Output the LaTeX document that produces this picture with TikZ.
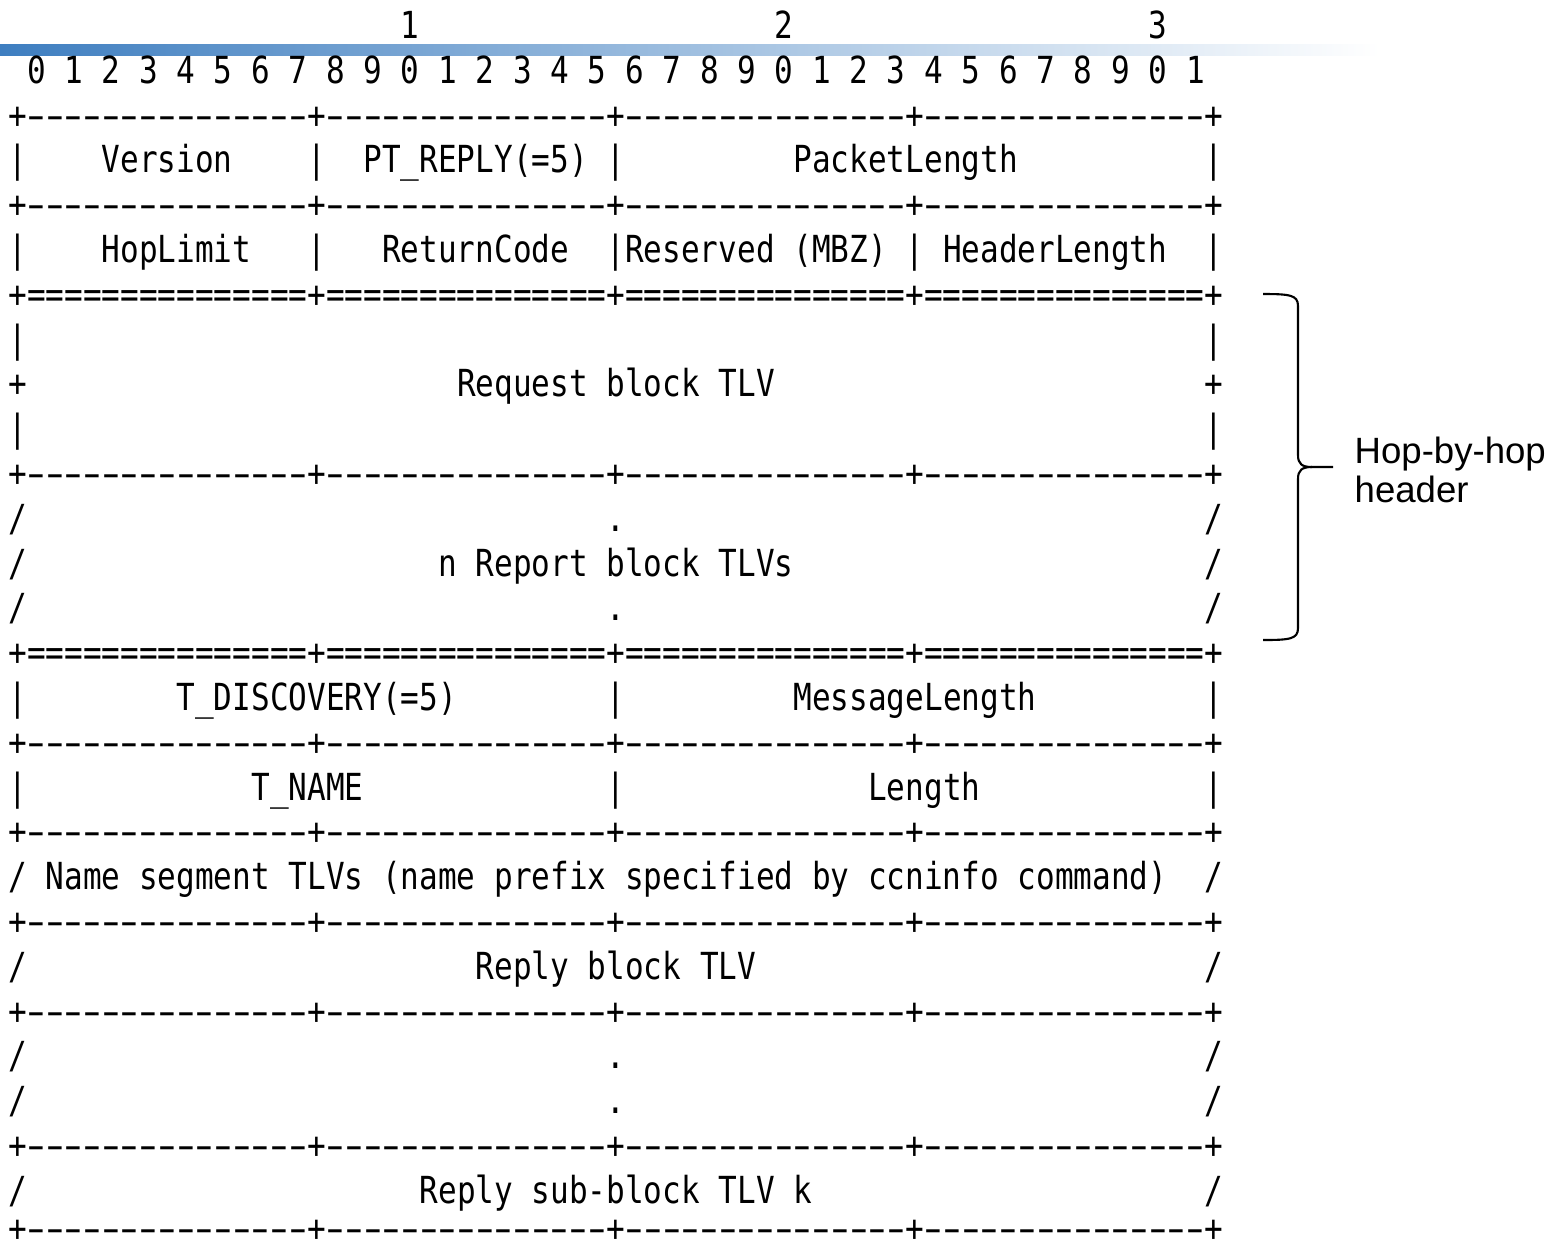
\documentclass[tikz,border=0pt]{standalone}
\usepackage{fontspec}
\usepackage{xcolor}
\usepackage{tikz}
\newfontfamily\gothic[FakeStretch=0.833,Ligatures=TeXOff]{DejaVu Sans Mono}
\newfontfamily\labelfont{Liberation Sans}
\definecolor{barblue}{RGB}{62,126,192}
\newcommand\skipcols[1]{\hskip#1\fontcharwd\font`0\relax}
\newcommand\dashcell{\makebox[\fontcharwd\font`0][c]{\scalebox{1.7}[1]{-}}}
\newcommand\dashseg{\foreach\k in {1,...,15}{\dashcell}}
\newcommand\dashrule{+\dashseg+\dashseg+\dashseg+\dashseg+}
\newcommand\eqrule{+===============+===============+===============+===============+}
\tikzset{
  asciirow/.style={anchor=base west, inner sep=0pt, font=\fontsize{10.6}{12}\gothic},
  hoplabel/.style={anchor=west, inner sep=0pt, align=left, font=\fontsize{10.4}{11.1}\labelfont},
  bracestroke/.style={line width=0.6pt},
}

\begin{document}
\begin{tikzpicture}[x=0.01cm, y=-0.01cm]
\useasboundingbox (0,0) rectangle (1560,1241);
\shade[left color=barblue, right color=white] (0,44) rectangle (1380,55);
% bit numbers
\node[asciirow] (tens) at (7.65,38.5) {\skipcols{21}1\skipcols{19}2\skipcols{19}3};
\node[asciirow] (bits) at (7.65,83.3) {\skipcols{1}0 1 2 3 4 5 6 7 8 9 0 1 2 3 4 5 6 7 8 9 0 1 2 3 4 5 6 7 8 9 0 1};
% fixed header
\node[asciirow] (r2) at (7.65,128.1) {\dashrule};
\node[asciirow] (version) at (7.65,172.9) {|\skipcols{4}Version\skipcols{4}|\skipcols{2}PT\_REPLY(=5)\skipcols{1}|\skipcols{9}PacketLength\skipcols{10}|};
\node[asciirow] (r4) at (7.65,217.7) {\dashrule};
\node[asciirow] (hoplimit) at (7.65,262.5) {|\skipcols{4}HopLimit\skipcols{3}|\skipcols{3}ReturnCode\skipcols{2}|Reserved (MBZ)\skipcols{1}|\skipcols{1}HeaderLength\skipcols{2}|};
\node[asciirow] (r6) at (7.65,307.3) {\eqrule};
% hop-by-hop part
\node[asciirow] (r7) at (7.65,352.1) {|\skipcols{63}|};
\node[asciirow] (request) at (7.65,396.9) {+\skipcols{23}Request block TLV\skipcols{23}+};
\node[asciirow] (r9) at (7.65,441.7) {|\skipcols{63}|};
\node[asciirow] (r10) at (7.65,486.5) {\dashrule};
\node[asciirow] (r11) at (7.65,531.3) {/\skipcols{31}.\skipcols{31}/};
\node[asciirow] (report) at (7.65,576.1) {/\skipcols{22}n Report block TLVs\skipcols{22}/};
\node[asciirow] (r13) at (7.65,620.9) {/\skipcols{31}.\skipcols{31}/};
\node[asciirow] (r14) at (7.65,665.7) {\eqrule};
% message part
\node[asciirow] (discovery) at (7.65,710.5) {|\skipcols{8}T\_DISCOVERY(=5)\skipcols{8}|\skipcols{9}MessageLength\skipcols{9}|};
\node[asciirow] (r16) at (7.65,755.3) {\dashrule};
\node[asciirow] (tname) at (7.65,800.1) {|\skipcols{12}T\_NAME\skipcols{13}|\skipcols{13}Length\skipcols{12}|};
\node[asciirow] (r18) at (7.65,844.9) {\dashrule};
\node[asciirow] (segment) at (7.65,889.7) {/\skipcols{1}Name segment TLVs (name prefix specified by ccninfo command)\skipcols{2}/};
\node[asciirow] (r20) at (7.65,934.5) {\dashrule};
\node[asciirow] (reply) at (7.65,979.3) {/\skipcols{24}Reply block TLV\skipcols{24}/};
\node[asciirow] (r22) at (7.65,1024.1) {\dashrule};
\node[asciirow] (r23) at (7.65,1068.9) {/\skipcols{31}.\skipcols{31}/};
\node[asciirow] (r24) at (7.65,1113.7) {/\skipcols{31}.\skipcols{31}/};
\node[asciirow] (r25) at (7.65,1158.5) {\dashrule};
\node[asciirow] (subblock) at (7.65,1203.3) {/\skipcols{21}Reply sub-block TLV k\skipcols{21}/};
\node[asciirow] (r27) at (7.65,1241) {\dashrule};
% brace
\draw[bracestroke] (1263,294) .. controls (1290,294) and (1298,295) .. (1298,306) -- (1298,455) .. controls (1298,464) and (1302,467) .. (1312,467) -- (1333,467);
\draw[bracestroke] (1312,467) .. controls (1302,467) and (1298,470) .. (1298,479) -- (1298,628) .. controls (1298,639) and (1290,640) .. (1263,640);
\node[hoplabel] (hop) at (1354,470) {Hop-by-hop\\header};
\end{tikzpicture}
\end{document}
